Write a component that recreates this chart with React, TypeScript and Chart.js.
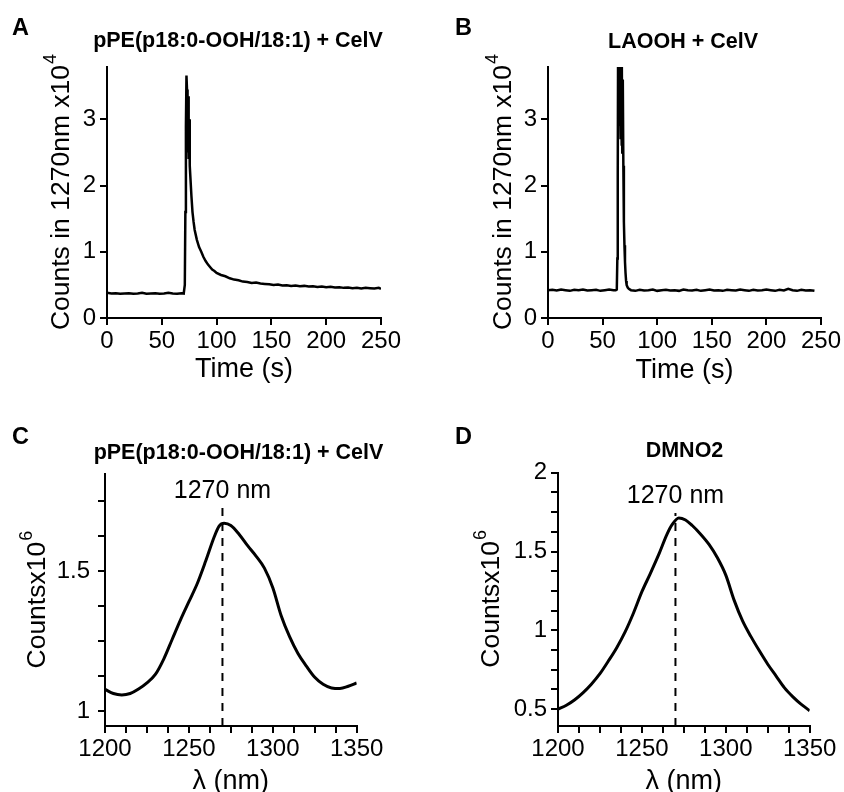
import React, { useEffect, useRef } from 'react';
import { Chart, registerables } from 'chart.js';

Chart.register(...registerables);

const FONT = '"Liberation Sans", Arial, Helvetica, sans-serif';

// ---------- Panel A: pPE(p18:0-OOH/18:1) + CelV, time course ----------
const A_TIME = [
  0, 4, 8, 12, 16, 20, 24, 28, 32, 36, 40, 44, 48, 52, 56, 60, 64, 68,
  70, 71, 71.5, 72, 72.5, 73, 73.5, 74, 74.5, 75, 75.5, 76,
  77, 78, 79, 80,
  82, 84, 86, 88, 90, 92, 94, 96, 98, 100,
  104, 108, 112, 116, 120, 124, 128, 132, 136, 140, 144, 148, 152, 156, 160, 164, 168, 172, 176,
  180, 184, 188, 192, 196, 200, 204, 208, 212, 216, 220, 224, 228, 232, 236, 240, 244, 248,
  250,
];
const A_COUNTS = [
  0.38, 0.37, 0.375, 0.365, 0.37, 0.375, 0.365, 0.37, 0.38, 0.365, 0.37, 0.375, 0.365, 0.37, 0.38, 0.37, 0.365, 0.375,
  0.37, 0.5, 1.6, 2.9, 3.66, 3.45, 2.5, 3.35, 2.4, 3.0, 2.3, 2.15,
  1.85, 1.6, 1.45, 1.33,
  1.18, 1.07, 1.0, 0.92, 0.86, 0.81, 0.77, 0.73, 0.71, 0.68,
  0.65, 0.63, 0.6, 0.58, 0.57, 0.55, 0.545, 0.53, 0.535, 0.52, 0.515, 0.51, 0.5, 0.505, 0.49, 0.495, 0.485, 0.49, 0.48,
  0.485, 0.475, 0.48, 0.47, 0.475, 0.465, 0.47, 0.46, 0.465, 0.455, 0.46, 0.45, 0.455, 0.445, 0.455, 0.45, 0.445, 0.455,
  0.44,
];

// ---------- Panel B: LAOOH + CelV, time course ----------
const B_TIME = [
  0, 4, 8, 12, 16, 20, 24, 28, 32, 36, 40, 44, 48, 52, 56, 60,
  62, 63, 63.5, 63.75, 64, 64.25, 64.5, 64.75, 65, 65.25, 65.5, 65.75, 66, 66.25, 66.5, 66.75, 67, 67.25, 67.5, 67.75, 68,
  68.5, 69, 69.5, 70, 70.5, 71, 71.5, 72, 73, 74,
  76, 80, 84, 88, 92, 96, 100, 104, 108, 112, 116, 120, 124, 128, 132, 136, 140, 144, 148, 152, 156, 160,
  164, 168, 172, 176, 180, 184, 188, 192, 196, 200, 204, 208, 212, 216, 220, 224, 228, 232, 236, 240, 244, 248,
  250,
];
const B_COUNTS = [
  0.42, 0.425, 0.415, 0.43, 0.42, 0.41, 0.425, 0.42, 0.43, 0.415, 0.42, 0.425, 0.41, 0.42, 0.43, 0.42,
  0.42, 0.43, 0.9, 1.6, 2.2, 4.5, 3.3, 4.5, 3.6, 4.5, 2.9, 4.5, 3.4, 4.5, 2.7, 4.5, 3.2, 4.5, 2.6, 4.2, 2.5,
  3.6, 2.3, 1.45, 1.1, 0.85, 0.68, 0.56, 0.5, 0.46, 0.44,
  0.42, 0.41, 0.425, 0.415, 0.42, 0.43, 0.41, 0.42, 0.425, 0.415, 0.42, 0.41, 0.43, 0.42, 0.415, 0.425, 0.41, 0.42, 0.43, 0.415,
  0.42, 0.41, 0.425, 0.42, 0.415, 0.43, 0.42, 0.41, 0.425, 0.415, 0.42, 0.43, 0.42, 0.41, 0.425, 0.415, 0.44, 0.42, 0.41, 0.425, 0.415, 0.42,
  0.41,
];

const TIME_TICKS = [0, 50, 100, 150, 200, 250];
const COUNT_TICKS = [0, 1, 2, 3];

// ---------- Panel C: pPE(p18:0-OOH/18:1) + CelV, spectrum ----------
const C_WL = [
  1200, 1205, 1210, 1215, 1220, 1225, 1230, 1235, 1240, 1245, 1250, 1255, 1260, 1265, 1268, 1271,
  1275, 1280, 1285, 1290, 1295, 1300, 1305, 1310, 1315, 1320, 1325, 1330, 1335, 1340, 1345, 1350,
];
const C_COUNTS = [
  1.077, 1.062, 1.057, 1.062, 1.078, 1.1, 1.13, 1.185, 1.255, 1.325, 1.39, 1.455, 1.535, 1.62, 1.66, 1.67,
  1.662, 1.63, 1.59, 1.553, 1.51, 1.44, 1.34, 1.265, 1.205, 1.16, 1.12, 1.095, 1.082, 1.08, 1.088, 1.1,
];

// ---------- Panel D: DMNO2, spectrum ----------
const D_WL = [
  1200, 1205, 1210, 1215, 1220, 1225, 1230, 1235, 1240, 1245, 1250, 1255, 1260, 1265, 1268, 1272,
  1276, 1280, 1285, 1290, 1295, 1300, 1305, 1310, 1315, 1320, 1325, 1330, 1335, 1340, 1345, 1350,
];
const D_COUNTS = [
  0.5, 0.525, 0.56, 0.605, 0.66, 0.725, 0.805, 0.89, 0.99, 1.11, 1.245, 1.36, 1.48, 1.61, 1.67, 1.713,
  1.7, 1.665, 1.61, 1.545, 1.46, 1.35, 1.19, 1.06, 0.96, 0.87, 0.785, 0.71, 0.635, 0.578, 0.53, 0.49,
];

const WL_TICKS = [1200, 1212.5, 1225, 1237.5, 1250, 1262.5, 1275, 1287.5, 1300, 1312.5, 1325, 1337.5, 1350];
const WL_LABELS = [1200, 1250, 1300, 1350];
const C_Y_TICKS = [1, 1.125, 1.25, 1.375, 1.5, 1.625, 1.75];
const C_Y_LABELS = [1, 1.5];
const D_Y_TICKS = [0.5, 0.625, 0.75, 0.875, 1, 1.125, 1.25, 1.375, 1.5, 1.625, 1.75, 1.875, 2];
const D_Y_LABELS = [0.5, 1, 1.5, 2];

const PEAK_WL = 1270;
const PEAK_LABEL = '1270 nm';
const DASH_TOP = 1.745;

const W = 422;
const H = 396;

type AxisCfg = { min: number; max: number; ticks: number[]; labels: number[]; pad: number };
type PanelCfg = {
  letter: string;
  letterX: number;
  letterY: number;
  title: string;
  titleX: number;
  titleY: number;
  area: { left: number; right: number; top: number; bottom: number };
  x: AxisCfg;
  y: AxisCfg;
  xTitle: string;
  xTitleOffset: number;
  yTitle: string;
  ySup: string;
  yTitleOffset: number;
  xs: number[];
  ys: number[];
  lineWidth: number;
  smooth: boolean;
  marker?: { labelY: number };
};

function drawText(ctx: CanvasRenderingContext2D, text: string, x: number, y: number, font: string, align: CanvasTextAlign) {
  ctx.save();
  ctx.font = font;
  ctx.textAlign = align;
  ctx.textBaseline = 'alphabetic';
  ctx.fillText(text, x, y);
  ctx.restore();
}

function makeTextPlugin(p: PanelCfg) {
  return {
    id: 'panelText' + p.letter,
    afterDraw(chart: any) {
      const ctx: CanvasRenderingContext2D = chart.ctx;
      const a = chart.chartArea;
      ctx.save();
      ctx.fillStyle = '#000';
      drawText(ctx, p.letter, p.letterX, p.letterY, `bold 23.5px ${FONT}`, 'left');
      drawText(ctx, p.title, p.titleX, p.titleY, `bold 21.5px ${FONT}`, 'center');
      drawText(ctx, p.xTitle, (a.left + a.right) / 2, a.bottom + p.xTitleOffset, `27px ${FONT}`, 'center');

      // rotated y title with superscript
      ctx.save();
      ctx.translate(a.left - p.yTitleOffset, (a.top + a.bottom) / 2);
      ctx.rotate(-Math.PI / 2);
      const baseFont = `26.5px ${FONT}`;
      const supFont = `18px ${FONT}`;
      ctx.font = baseFont;
      const w1 = ctx.measureText(p.yTitle).width;
      ctx.font = supFont;
      const w2 = ctx.measureText(p.ySup).width;
      const start = -(w1 + w2) / 2;
      ctx.textAlign = 'left';
      ctx.textBaseline = 'alphabetic';
      ctx.font = baseFont;
      ctx.fillText(p.yTitle, start, 0);
      ctx.font = supFont;
      ctx.fillText(p.ySup, start + w1 + 1, -13);
      ctx.restore();

      if (p.marker) {
        const xs = chart.scales.x;
        const ys = chart.scales.y;
        drawText(ctx, PEAK_LABEL, xs.getPixelForValue(PEAK_WL), ys.getPixelForValue(p.marker.labelY), `25px ${FONT}`, 'center');
      }
      ctx.restore();
    },
  };
}

function axisOptions(ax: AxisCfg, isX: boolean, size: number) {
  return {
    type: 'linear' as const,
    min: ax.min,
    max: ax.max,
    afterBuildTicks: (scale: any) => {
      scale.ticks = ax.ticks.map((v) => ({ value: v }));
    },
    afterFit: (scale: any) => {
      if (isX) scale.height = size;
      else scale.width = size;
    },
    border: { display: true, color: '#000', width: 2 },
    grid: {
      display: true,
      drawOnChartArea: false,
      drawTicks: true,
      tickLength: 7,
      color: '#000',
      lineWidth: 2,
    },
    ticks: {
      autoSkip: false,
      maxRotation: 0,
      minRotation: 0,
      color: '#000',
      padding: ax.pad,
      font: { family: FONT, size: 24 },
      callback: (value: any) => (ax.labels.includes(Number(value)) ? String(value) : ''),
    },
  };
}

function Panel({ cfg, left, top }: { cfg: PanelCfg; left: number; top: number }) {
  const ref = useRef<HTMLCanvasElement | null>(null);
  useEffect(() => {
    if (!ref.current) return;
    const datasets: any[] = [
      {
        data: cfg.xs.map((x, i) => ({ x, y: cfg.ys[i] })),
        borderColor: '#000',
        borderWidth: cfg.lineWidth,
        pointRadius: 0,
        fill: false,
        tension: cfg.smooth ? 0.4 : 0,
        cubicInterpolationMode: cfg.smooth ? 'monotone' : 'default',
        clip: 0,
      },
    ];
    if (cfg.marker) {
      datasets.push({
        data: [
          { x: PEAK_WL, y: cfg.y.min },
          { x: PEAK_WL, y: DASH_TOP },
        ],
        borderColor: '#000',
        borderWidth: 2,
        borderDash: [8, 7],
        pointRadius: 0,
        fill: false,
      });
    }
    const chart = new Chart(ref.current, {
      type: 'line',
      data: { datasets },
      options: {
        responsive: false,
        animation: false,
        devicePixelRatio: 1,
        layout: {
          padding: { left: 0, top: cfg.area.top, right: W - cfg.area.right, bottom: 0 },
        },
        plugins: {
          legend: { display: false },
          tooltip: { enabled: false },
          title: { display: false },
        },
        elements: { point: { radius: 0 } },
        scales: {
          x: axisOptions(cfg.x, true, H - cfg.area.bottom) as any,
          y: axisOptions(cfg.y, false, cfg.area.left) as any,
        },
      },
      plugins: [makeTextPlugin(cfg)],
    });
    return () => chart.destroy();
  }, [cfg]);
  return (
    <canvas
      ref={ref}
      width={W}
      height={H}
      style={{ position: 'absolute', left, top, width: W, height: H }}
    />
  );
}

const PANEL_A: PanelCfg = {
  letter: 'A', letterX: 12, letterY: 35,
  title: 'pPE(p18:0-OOH/18:1) + CelV', titleX: 238, titleY: 47,
  area: { left: 107, right: 381, top: 67, bottom: 318 },
  x: { min: 0, max: 250, ticks: TIME_TICKS, labels: TIME_TICKS, pad: 2 },
  y: { min: 0, max: 3.79, ticks: COUNT_TICKS, labels: COUNT_TICKS, pad: 4 },
  xTitle: 'Time (s)', xTitleOffset: 59,
  yTitle: 'Counts in 1270nm x10', ySup: '4', yTitleOffset: 38.5,
  xs: A_TIME, ys: A_COUNTS, lineWidth: 2.5, smooth: false,
};

const PANEL_B: PanelCfg = {
  letter: 'B', letterX: 33, letterY: 35,
  title: 'LAOOH + CelV', titleX: 261, titleY: 48,
  area: { left: 126, right: 399, top: 67, bottom: 318 },
  x: { min: 0, max: 250, ticks: TIME_TICKS, labels: TIME_TICKS, pad: 2 },
  y: { min: 0, max: 3.79, ticks: COUNT_TICKS, labels: COUNT_TICKS, pad: 4 },
  xTitle: 'Time (s)', xTitleOffset: 60,
  yTitle: 'Counts in 1270nm x10', ySup: '4', yTitleOffset: 37.5,
  xs: B_TIME, ys: B_COUNTS, lineWidth: 2.5, smooth: false,
};

const PANEL_C: PanelCfg = {
  letter: 'C', letterX: 12, letterY: 48.3,
  title: 'pPE(p18:0-OOH/18:1) + CelV', titleX: 238.5, titleY: 62.5,
  area: { left: 105, right: 356.7, top: 78.3, bottom: 330 },
  x: { min: 1200, max: 1350, ticks: WL_TICKS, labels: WL_LABELS, pad: 2 },
  y: { min: 0.946, max: 1.845, ticks: C_Y_TICKS, labels: C_Y_LABELS, pad: 8 },
  xTitle: 'λ (nm)', xTitleOffset: 63,
  yTitle: 'Countsx10', ySup: '6', yTitleOffset: 60,
  xs: C_WL, ys: C_COUNTS, lineWidth: 3, smooth: true,
  marker: { labelY: 1.76 },
};

const PANEL_D: PanelCfg = {
  letter: 'D', letterX: 33, letterY: 48.3,
  title: 'DMNO2', titleX: 262.5, titleY: 60.5,
  area: { left: 136, right: 387.7, top: 76.7, bottom: 330 },
  x: { min: 1200, max: 1350, ticks: WL_TICKS, labels: WL_LABELS, pad: 2 },
  y: { min: 0.393, max: 2.0, ticks: D_Y_TICKS, labels: D_Y_LABELS, pad: 4 },
  xTitle: 'λ (nm)', xTitleOffset: 63,
  yTitle: 'Countsx10', ySup: '6', yTitleOffset: 59.3,
  xs: D_WL, ys: D_COUNTS, lineWidth: 3, smooth: true,
  marker: { labelY: 1.805 },
};

export default function App() {
  return (
    <div
      style={{
        position: 'absolute',
        left: 0,
        top: 0,
        width: 844,
        height: 792,
        background: '#fff',
        overflow: 'hidden',
      }}
    >
      <Panel cfg={PANEL_A} left={0} top={0} />
      <Panel cfg={PANEL_B} left={422} top={0} />
      <Panel cfg={PANEL_C} left={0} top={396} />
      <Panel cfg={PANEL_D} left={422} top={396} />
    </div>
  );
}
